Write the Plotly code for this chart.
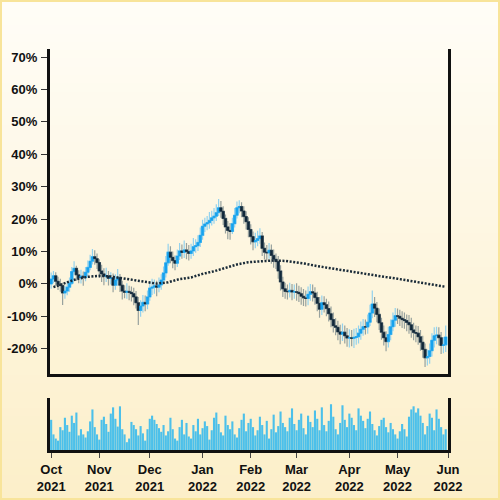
import plotly.graph_objects as go
import pandas as pd

# trading days, Oct 2021 - May 2022
dates = pd.bdate_range('2021-10-01', '2022-05-31')

# % change from start
opens = [
    0.0, 1.5, 2.5, 0.8, -0.2, -0.5, -2.8, -2.2, -1.0, 0.2,
    3.8, 4.8, 2.8, 1.9, 2.4, 2.0, 3.6, 5.1, 7.0, 8.4,
    7.8, 6.6, 4.0, 3.1, 2.4, 2.5, 1.7, 1.9, -0.4, 1.2,
    2.0, -0.4, -2.2, -2.6, -2.3, -2.6, -3.0, -4.0, -5.8, -8.2,
    -6.8, -5.7, -6.2, -4.0, -1.3, -1.0, -0.6, -1.0, -0.3, 1.2,
    3.4, 6.5, 9.8, 8.2, 7.2, 6.4, 8.6, 10.2, 9.7, 10.5,
    10.0, 9.4, 10.2, 11.5, 11.8, 12.8, 15.0, 17.8, 18.5, 18.9,
    19.6, 20.4, 20.9, 22.0, 23.5, 22.4, 20.2, 17.6, 16.5, 16.2,
    18.6, 21.2, 23.5, 23.9, 22.5, 20.8, 19.2, 16.8, 14.6, 13.0,
    13.4, 14.0, 14.8, 11.0, 9.8, 9.6, 10.4, 8.8, 7.6, 6.9,
    4.0, 0.6, -1.5, -2.3, -2.4, -2.0, -2.5, -2.4, -2.6, -3.0,
    -3.8, -4.3, -4.5, -3.2, -2.4, -2.8, -4.2, -6.0, -7.8, -5.8,
    -6.4, -7.6, -9.2, -11.0, -12.9, -13.4, -14.8, -15.5, -14.9, -16.0,
    -16.7, -16.6, -16.8, -16.5, -16.3, -15.2, -14.0, -13.2, -13.3, -11.8,
    -9.0, -6.2, -7.5, -9.4, -12.0, -14.9, -16.6, -17.8, -15.6, -13.2,
    -11.2, -9.8, -10.0, -10.6, -11.0, -11.3, -11.9, -12.6, -14.2, -15.0,
    -15.2, -16.3, -18.0, -20.2, -22.8, -22.4, -20.6, -17.4, -16.0, -15.8,
    -16.6, -19.0, -18.8,
]
highs = [
    3.5, 4.0, 3.6, 2.2, 1.6, 0.4, -0.6, 0.8, 2.0, 5.2,
    7.0, 5.6, 4.2, 4.4, 3.8, 5.2, 7.2, 9.0, 10.8, 10.4,
    9.4, 7.6, 5.9, 4.8, 5.0, 4.0, 3.6, 3.2, 3.0, 4.6,
    3.1, 1.0, -0.4, 0.2, -0.6, -0.8, -1.2, -2.2, -4.0, -5.0,
    -3.4, -3.6, -2.0, 0.8, 1.6, 1.4, 1.0, 2.0, 3.0, 5.4,
    8.6, 12.4, 11.6, 10.0, 8.8, 10.6, 12.6, 12.2, 13.4, 12.6,
    12.0, 12.4, 14.2, 13.8, 15.0, 17.4, 19.8, 20.4, 21.0, 22.2,
    22.6, 23.4, 24.6, 26.2, 25.6, 24.0, 21.4, 19.4, 18.8, 20.4,
    23.4, 25.4, 25.8, 25.2, 24.0, 22.4, 20.6, 18.4, 16.2, 15.8,
    16.4, 17.2, 16.0, 12.8, 12.0, 12.6, 12.2, 10.6, 9.4, 8.6,
    5.8, 2.2, 0.4, -0.2, 0.4, 0.0, -0.2, 0.2, -0.6, -1.0,
    -1.6, -2.0, -0.8, 0.0, -0.2, -1.0, -2.4, -4.0, -3.6, -3.8,
    -4.6, -5.4, -7.0, -8.8, -10.6, -11.4, -12.6, -12.2, -12.8, -13.6,
    -14.0, -14.2, -13.8, -13.6, -12.8, -11.6, -10.8, -11.0, -9.4, -6.4,
    -2.0, -4.0, -5.6, -7.6, -10.4, -12.8, -14.6, -13.2, -11.0, -8.8,
    -7.4, -7.6, -8.0, -8.4, -8.8, -9.4, -9.6, -10.4, -12.0, -12.8,
    -13.0, -14.2, -16.0, -18.4, -20.2, -18.4, -15.2, -13.4, -13.2, -13.4,
    -14.8, -16.4, -12.8,
]
lows = [
    -1.5, 0.2, -0.8, -1.9, -2.4, -6.5, -4.6, -3.5, -2.4, -0.3,
    2.8, 1.0, 0.2, 0.1, -0.6, 0.8, 2.6, 4.2, 6.0, 5.9,
    4.6, 1.8, 0.6, -0.4, 0.6, -0.5, -0.2, -2.6, -1.8, -0.6,
    -2.5, -4.8, -4.4, -4.6, -5.0, -5.4, -6.6, -7.6, -12.7, -10.1,
    -8.8, -8.4, -7.8, -5.2, -3.4, -3.0, -3.8, -2.6, -1.8, 0.0,
    2.0, 5.6, 6.4, 4.8, 4.2, 5.2, 7.4, 7.8, 8.0, 7.6,
    7.2, 7.8, 8.6, 9.6, 10.2, 11.4, 13.6, 16.0, 16.6, 17.0,
    18.0, 18.6, 19.4, 21.0, 20.4, 18.2, 15.6, 13.8, 13.6, 15.4,
    17.4, 20.2, 21.8, 20.6, 18.6, 16.8, 14.4, 12.2, 10.4, 11.0,
    11.6, 12.4, 8.6, 7.6, 7.2, 7.8, 6.2, 5.0, 4.6, 1.6,
    -2.0, -4.0, -4.6, -4.8, -4.2, -5.0, -4.6, -5.2, -5.6, -6.4,
    -6.8, -7.0, -6.6, -5.2, -5.4, -6.4, -8.4, -10.4, -9.6, -8.8,
    -10.0, -11.6, -13.4, -15.0, -15.8, -17.4, -18.6, -17.6, -18.4, -19.4,
    -19.6, -19.2, -19.8, -18.8, -18.4, -17.2, -16.0, -15.6, -15.4, -13.0,
    -10.6, -10.2, -11.8, -14.2, -17.2, -19.0, -20.8, -19.6, -17.4, -14.6,
    -13.2, -12.4, -13.0, -13.6, -13.8, -14.6, -15.4, -16.6, -17.4, -18.0,
    -18.8, -20.6, -22.8, -25.6, -25.2, -24.6, -22.4, -19.6, -18.6, -19.0,
    -21.6, -21.4, -21.0,
]
closes = [
    1.5, 2.5, 0.8, -0.2, -0.5, -2.8, -2.2, -1.0, 0.2, 3.8,
    4.8, 2.8, 1.9, 2.4, 2.0, 3.6, 5.1, 7.0, 8.4, 7.8,
    6.6, 4.0, 3.1, 2.4, 2.5, 1.7, 1.9, -0.4, 1.2, 2.0,
    -0.4, -2.2, -2.6, -2.3, -2.6, -3.0, -4.0, -5.8, -8.2, -6.8,
    -5.7, -6.2, -4.0, -1.3, -1.0, -0.6, -1.0, -0.3, 1.2, 3.4,
    6.5, 9.8, 8.2, 7.2, 6.4, 8.6, 10.2, 9.7, 10.5, 10.0,
    9.4, 10.2, 11.5, 11.8, 12.8, 15.0, 17.8, 18.5, 18.9, 19.6,
    20.4, 20.9, 22.0, 23.5, 22.4, 20.2, 17.6, 16.5, 16.2, 18.6,
    21.2, 23.5, 23.9, 22.5, 20.8, 19.2, 16.8, 14.6, 13.0, 13.4,
    14.0, 14.8, 11.0, 9.8, 9.6, 10.4, 8.8, 7.6, 6.9, 4.0,
    0.6, -1.5, -2.3, -2.4, -2.0, -2.5, -2.4, -2.6, -3.0, -3.8,
    -4.3, -4.5, -3.2, -2.4, -2.8, -4.2, -6.0, -7.8, -5.8, -6.4,
    -7.6, -9.2, -11.0, -12.9, -13.4, -14.8, -15.5, -14.9, -16.0, -16.7,
    -16.6, -16.8, -16.5, -16.3, -15.2, -14.0, -13.2, -13.3, -11.8, -9.0,
    -6.2, -7.5, -9.4, -12.0, -14.9, -16.6, -17.8, -15.6, -13.2, -11.2,
    -9.8, -10.0, -10.6, -11.0, -11.3, -11.9, -12.6, -14.2, -15.0, -15.2,
    -16.3, -18.0, -20.2, -22.8, -22.4, -20.6, -17.4, -16.0, -15.8, -16.6,
    -19.0, -18.8, -16.4,
]
volumes = [
    58, 30, 22, 18, 44, 38, 62, 48, 35, 66,
    52, 72, 28, 40, 30, 24, 36, 55, 78, 44,
    30, 20, 58, 64, 50, 35, 70, 82, 60, 45,
    84, 40, 30, 15, 22, 54, 48, 40, 28, 46,
    32, 18, 40, 60, 66, 58, 50, 42, 35, 48,
    28, 36, 62, 40, 22, 18, 44, 58, 30, 52,
    26, 22, 48, 36, 60, 30, 42, 55, 46, 20,
    38, 62, 72, 50, 34, 28, 66, 48, 40, 55,
    30, 24, 42, 58, 70, 36, 52, 60, 44, 28,
    38, 64, 48, 30, 56, 22, 40, 68, 34, 46,
    74, 52, 44, 36, 62, 80, 50, 38, 58, 70,
    42, 30, 66, 54, 44, 76, 60, 38, 82, 48,
    36, 56, 88, 64, 40, 30, 52, 86, 58, 44,
    70, 62, 48, 38, 80, 66, 56, 42, 60, 74,
    50, 38, 28, 46, 58, 62, 44, 34, 52, 40,
    30, 22, 36, 50, 40, 26, 64, 78, 84, 72,
    80, 66, 52, 30, 46, 70, 62, 38, 78, 60,
    44, 30, 40,
]

# dotted average line
ma_dates = [
    '2021-10-04', '2021-10-11', '2021-10-18', '2021-10-25', '2021-11-01',
    '2021-11-08', '2021-11-15', '2021-11-22', '2021-11-29', '2021-12-06',
    '2021-12-13', '2021-12-20', '2021-12-27', '2022-01-03', '2022-01-10',
    '2022-01-18', '2022-01-24', '2022-01-31', '2022-02-07', '2022-02-14',
    '2022-02-22', '2022-02-28', '2022-03-07', '2022-03-14', '2022-03-21',
    '2022-03-28', '2022-04-04', '2022-04-11', '2022-04-18', '2022-04-25',
    '2022-05-02', '2022-05-09', '2022-05-16', '2022-05-23', '2022-05-31',
]
ma_values = [
    -1.0, 0.3, 1.5, 2.2, 2.5,
    2.3, 1.8, 1.1, 0.6, 0.1,
    0.5, 1.5, 2.0, 3.1, 3.9,
    5.1, 6.0, 6.7, 7.0, 7.2,
    7.1, 6.8, 6.2, 5.5, 4.9,
    4.3, 3.8, 3.2, 2.7, 2.1,
    1.6, 1.0, 0.5, -0.1, -0.9,
]

y_ticks = [-20, -10, 0, 10, 20, 30, 40, 50, 60, 70]
y_tick_labels = ['-20%', '-10%', '0%', '10%', '20%', '30%', '40%', '50%', '60%', '70%']

body_top = [max(o, c) for o, c in zip(opens, closes)]
body_bot = [min(o, c) for o, c in zip(opens, closes)]

fig = go.Figure()

# wicks
fig.add_trace(go.Candlestick(
    x=dates, open=opens, high=highs, low=lows, close=closes,
    increasing=dict(line=dict(color='#93d2ee', width=1.2), fillcolor='#93d2ee'),
    decreasing=dict(line=dict(color='#98a29e', width=1.2), fillcolor='#98a29e'),
    xaxis='x', yaxis='y', showlegend=False, hoverinfo='skip',
))
# bodies
fig.add_trace(go.Candlestick(
    x=dates, open=opens, high=body_top, low=body_bot, close=closes,
    increasing=dict(line=dict(color='#17a3ee', width=0.6), fillcolor='#17a3ee'),
    decreasing=dict(line=dict(color='#12293a', width=0.6), fillcolor='#12293a'),
    xaxis='x', yaxis='y', showlegend=False,
))
fig.add_trace(go.Scatter(
    x=ma_dates, y=ma_values, mode='lines',
    line=dict(color='#1a2b38', width=2.5, dash='2px,1.6px'),
    xaxis='x', yaxis='y', showlegend=False,
))
fig.add_trace(go.Bar(
    x=dates, y=volumes, marker=dict(color='#4cc0ea', line=dict(width=0)),
    xaxis='x2', yaxis='y2', showlegend=False,
))

# background gradient + border
shapes = []
n = 60
top_c = (255, 253, 247)
bot_c = (252, 239, 201)
for i in range(n):
    t = i / (n - 1)
    c = tuple(round(top_c[k] + (bot_c[k] - top_c[k]) * t) for k in range(3))
    y0 = 1 + 49 / 401 - (i / n) * (500 / 401)
    y1 = 1 + 49 / 401 - ((i + 1) / n) * (500 / 401)
    shapes.append(dict(type='rect', xref='paper', yref='paper', layer='below',
                       x0=-50 / 398, x1=1 + 52 / 398, y0=y1 - 0.003, y1=y0,
                       fillcolor='rgb(%d,%d,%d)' % c, line=dict(width=0)))
shapes.append(dict(type='rect', xref='paper', yref='paper', layer='above',
                   x0=-50 / 398, x1=1 + 52 / 398, y0=-50 / 401, y1=1 + 49 / 401,
                   fillcolor='rgba(0,0,0,0)', line=dict(color='#f8e49a', width=4)))

tick_font = dict(family='Liberation Sans', size=13, color='#111', weight='bold')
x_range = ['2021-09-30 12:00', '2022-06-01']
breaks = [dict(bounds=['sat', 'mon'])]

fig.update_layout(
    width=500, height=500,
    margin=dict(l=50, r=52, t=49, b=50),
    paper_bgcolor='#fef8e4', plot_bgcolor='rgba(0,0,0,0)',
    shapes=shapes,
    boxgap=0.0,
    boxgroupgap=0.0,
    bargap=0.08,
    showlegend=False,
    xaxis=dict(domain=[0, 1], range=x_range, rangebreaks=breaks, anchor='y',
               rangeslider=dict(visible=False), automargin=False,
               showline=True, linewidth=3, linecolor='#111', ticks='',
               showticklabels=False, showgrid=False, zeroline=False),
    xaxis2=dict(domain=[0, 1], range=x_range, rangebreaks=breaks, anchor='y2',
                automargin=False,
                showline=True, linewidth=3, linecolor='#111',
                ticks='outside', ticklen=5, tickwidth=1, tickcolor='#444',
                dtick='M1', tick0='2021-10-01', tickformat='%b<br>%Y',
                tickfont=tick_font, showgrid=False, zeroline=False),
    yaxis=dict(domain=[0.1895, 1], range=[-27.8, 72.5], anchor='x',
               tickvals=y_ticks, ticktext=y_tick_labels, automargin=False,
               ticks='outside', ticklen=6, tickwidth=1, tickcolor='#333',
               ticklabelstandoff=1,
               showline=True, mirror=True, linewidth=3, linecolor='#111',
               tickfont=tick_font, showgrid=False, zeroline=False),
    yaxis2=dict(domain=[0, 0.1297], range=[0, 100], anchor='x2',
                automargin=False,
                showline=True, mirror=True, linewidth=3, linecolor='#111',
                ticks='', showticklabels=False, showgrid=False, zeroline=False),
)

# drop the default page margin so the figure sits at the window corner
fig.write_html("out.html", config={'displayModeBar': False},
               post_script="document.body.style.margin='0';")
